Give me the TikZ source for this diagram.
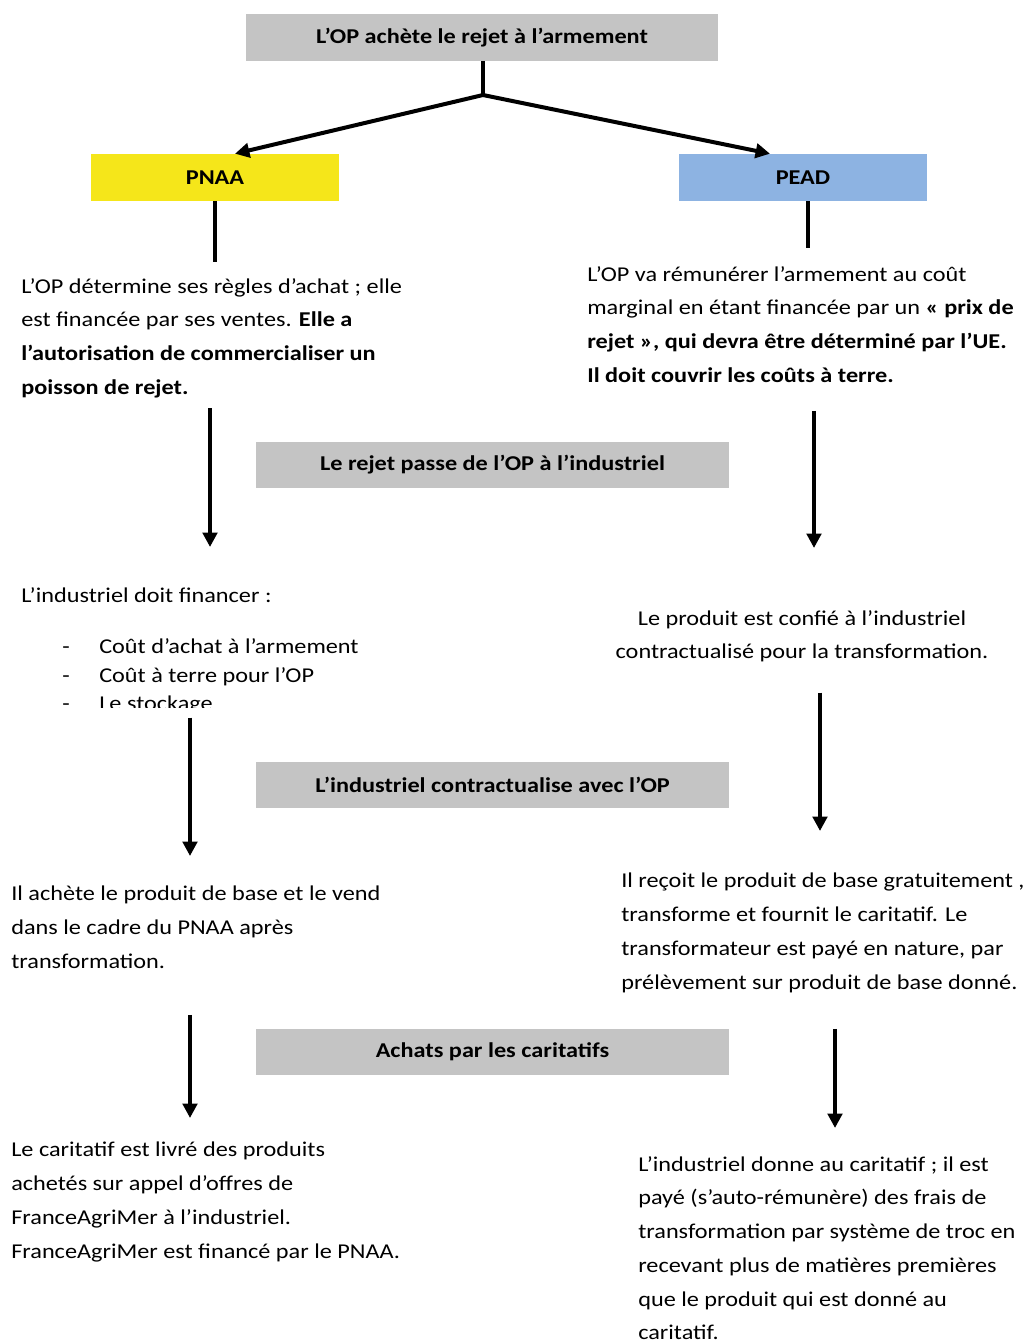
\documentclass[tikz,border=0pt]{standalone}
\usepackage{fontspec}
\setmainfont{Carlito}[FakeStretch=1.15]
\usetikzlibrary{arrows.meta,calc}
\definecolor{boxgray}{HTML}{C4C4C4}
\definecolor{pnaayellow}{HTML}{F5E61A}
\definecolor{peadblue}{HTML}{8DB3E2}
\tikzstyle{block} = [rectangle, fill=boxgray, minimum width=11.8cm,
    minimum height=1.15cm, inner sep=0pt, font=\fontsize{15}{18}\selectfont\bfseries]
\tikzstyle{prog} = [rectangle, minimum width=6.2cm, minimum height=1.175cm,
    inner sep=0pt, font=\fontsize{15}{18}\selectfont\bfseries]
\tikzstyle{txt} = [anchor=north west, inner sep=0pt, align=left,
    font=\fontsize{15}{24}\selectfont]
\tikzstyle{line} = [draw, line width=1mm, -{Triangle[length=3.6mm, width=3.6mm]}]
\tikzstyle{stub} = [draw, line width=1mm]

\begin{document}
\begin{tikzpicture}[x=0.025cm, y=-0.025cm]
	\useasboundingbox (0,0) rectangle (1024,1343);

	% boxes
	\node [block] (achat) at (482,37.5) {L’OP achète le rejet à l’armement};
	\node [prog, fill=pnaayellow] (pnaa) at (215,177.5) {PNAA};
	\node [prog, fill=peadblue] (pead) at (803,177.5) {PEAD};
	\node [block] (passe) at (492.5,464.5) {Le rejet passe de l’OP à l’industriel};
	\node [block] (contrat) at (492.5,784.5) {L’industriel contractualise avec l’OP};
	\node [block] (caritatifs) at (492.5,1051.5) {Achats par les caritatifs};

	% texts
	\node [txt] (pnaatxt) at (21,278) {L’OP détermine ses règles d’achat ; elle\\
		est financée par ses ventes. \textbf{Elle a}\\
		\textbf{l’autorisation de commercialiser un}\\
		\textbf{poisson de rejet.}};
	\node [txt] (peadtxt) at (587,266) {L’OP va rémunérer l’armement au coût\\
		marginal en étant financée par un \textbf{« prix de}\\
		\textbf{rejet », qui devra être déterminé par l’UE.}\\
		\textbf{Il doit couvrir les coûts à terre.}};
	\node [txt] (indfin) at (21,587) {L’industriel doit financer :};
	\begin{scope}
		\clip (0,620) rectangle (420,707);
		\node [txt, font=\fontsize{15}{20}\selectfont] (couts) at (62,634) {%
			\begin{tabular}{@{}p{0.925cm}@{}l@{}}
			- & Coût d’achat à l’armement\\
			- & Coût à terre pour l’OP\\
			- & Le stockage
			\end{tabular}};
	\end{scope}
	\node [txt, anchor=north, align=center] (confie) at (802,610) {Le produit est confié à l’industriel\\
		contractualisé pour la transformation.};
	\node [txt] (achete) at (11,886) {Il achète le produit de base et le vend\\
		dans le cadre du PNAA après\\
		transformation.};
	\node [txt] (recoit) at (621,873) {Il reçoit le produit de base gratuitement ,\\
		transforme et fournit le caritatif. Le\\
		transformateur est payé en nature, par\\
		prélèvement sur produit de base donné.};
	\node [txt] (livre) at (11,1142) {Le caritatif est livré des produits\\
		achetés sur appel d’offres de\\
		FranceAgriMer à l’industriel.\\
		FranceAgriMer est financé par le PNAA.};
	\node [txt] (donne) at (638,1156) {L’industriel donne au caritatif ; il est\\
		payé (s’auto-rémunère) des frais de\\
		transformation par système de troc en\\
		recevant plus de matières premières\\
		que le produit qui est donné au\\
		caritatif.};

	% fork from the top box
	\coordinate (fork) at (483,95);
	\coordinate (pnaaend) at (215,262);
	\coordinate (peadend) at (808,248);
	\path [stub] (achat.south -| fork) -- (fork);
	\path [line] (fork) -- ([xshift=0.5cm]pnaa.north);
	\path [line] (fork) -- ([xshift=-0.825cm]pead.north);
	\path [stub] (pnaa.south) -- (pnaaend);
	\path [stub] (pead.south -| peadend) -- (peadend);

	% down arrows
	\coordinate (colA) at (210,0);
	\coordinate (colB) at (814,0);
	\coordinate (colC) at (190,0);
	\coordinate (colD) at (820,0);
	\coordinate (colE) at (835,0);
	\path [line, shorten <=0.25cm, shorten >=1.0cm] (pnaatxt.south -| colA) -- (indfin.north -| colA);
	\path [line, shorten <=0.7cm, shorten >=1.55cm] (peadtxt.south -| colB) -- (confie.north -| colB);
	\path [line, shorten <=-0.03cm, shorten >=0.75cm] (couts.south -| colC) -- (achete.north -| colC);
	\path [line, shorten <=0.75cm, shorten >=1.05cm] (confie.south -| colD) -- (recoit.north -| colD);
	\path [line, shorten <=1.15cm, shorten >=0.6cm] (achete.south -| colC) -- (livre.north -| colC);
	\path [line, shorten <=0.9cm, shorten >=0.7cm] (recoit.south -| colE) -- (donne.north -| colE);
\end{tikzpicture}
\end{document}
